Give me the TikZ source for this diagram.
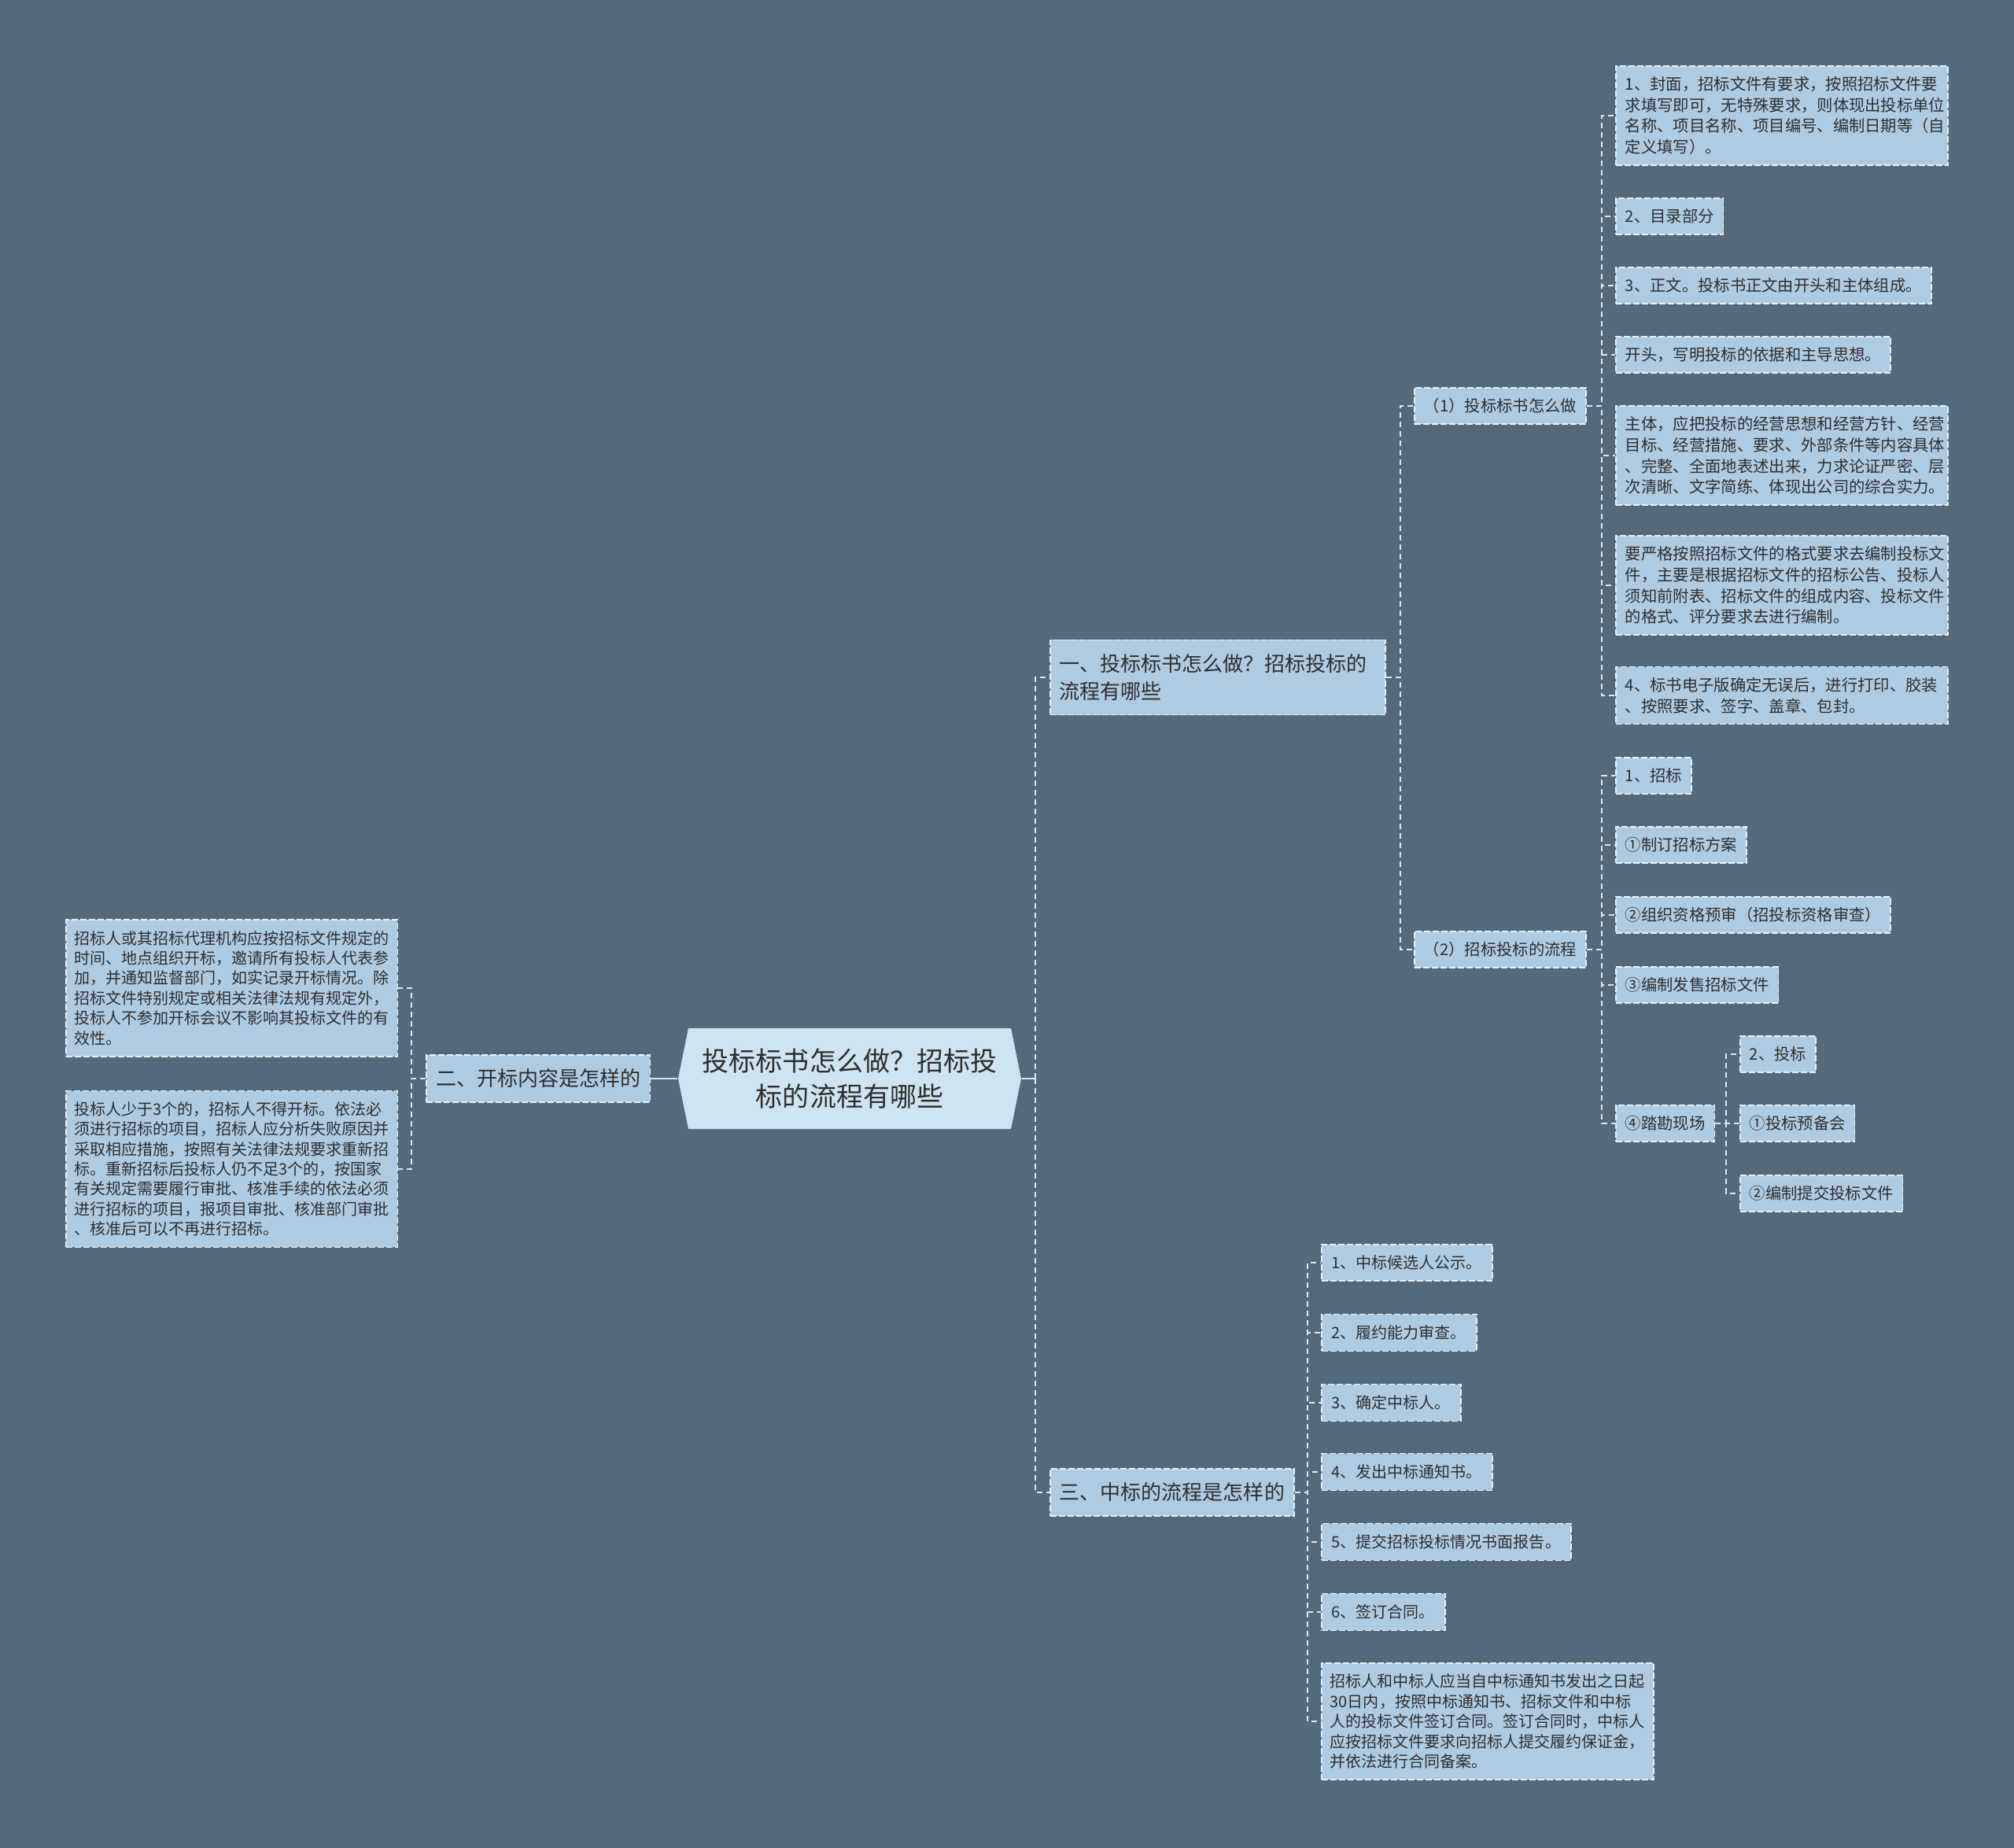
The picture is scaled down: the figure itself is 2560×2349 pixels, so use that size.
\documentclass[tikz,border=0pt]{standalone}
\usepackage{fontspec}
\setmainfont{Noto Sans CJK SC}
\usepackage{tikz}
\usetikzlibrary{calc}
\definecolor{slate}{HTML}{546A7B}
\definecolor{boxbg}{HTML}{AFCBE2}
\definecolor{hubbg}{HTML}{CFE4F1}
\definecolor{rim}{HTML}{E6EFF5}
\definecolor{wire}{HTML}{DCE7EF}
\definecolor{ink}{HTML}{2E2E2E}
\newcommand{\twig}[2]{\draw[link] (#1.east) -| ($(#2.west)+(-17,0)$) -- (#2.west);}
\newcommand{\ltwig}[2]{\draw[link] (#1.west) -| ($(#2.east)+(17,0)$) -- (#2.east);}
\tikzset{box/.style={draw=rim,line width=0.015cm,dash pattern=on 0.08cm off 0.03cm,fill=boxbg,text=ink,align=left,inner xsep=0.12cm,inner ysep=0.13cm,anchor=west},
  topic/.style={box,font=\fontsize{7.4pt}{10pt}\selectfont,inner ysep=0.18cm},
  leaf/.style={box,font=\fontsize{5.78pt}{7.6pt}\selectfont,inner ysep=0.135cm},
  note/.style={box,font=\fontsize{5.69pt}{7.22pt}\selectfont,inner xsep=0.13cm,inner ysep=0.14cm},
  link/.style={draw=wire,line width=0.02cm,dash pattern=on 0.07cm off 0.05cm},
  rootlink/.style={draw=wire,line width=0.025cm}}

\begin{document}
\begin{tikzpicture}[x=0.01cm,y=-0.01cm]
\useasboundingbox (0,0) rectangle (2560,2349);
\fill[slate] (0,0) rectangle (2560,2349);
\coordinate (rc) at (1080,1371);
\fill[hubbg] ($(rc)+(-218,0)$) -- ($(rc)+(-205,-64)$) -- ($(rc)+(205,-64)$) -- ($(rc)+(218,0)$) -- ($(rc)+(205,64)$) -- ($(rc)+(-205,64)$) -- cycle;
\node[text=ink,align=center,inner sep=0pt,minimum width=4.36cm,font=\fontsize{9.67pt}{12.8pt}\selectfont] (root) at (rc) {投标标书怎么做？招标投\\标的流程有哪些};
% first level
\node[topic,text width=4.02cm] (one) at (1334,861) {一、投标标书怎么做？招标投标的\\流程有哪些};
\node[topic,anchor=east] (two) at (827,1371) {二、开标内容是怎样的};
\node[topic] (three) at (1334,1897) {三、中标的流程是怎样的};
\draw[rootlink] (root.east) -- ++(17,0) coordinate (rj); \draw[rootlink] (root.west) -- (two.east);
\draw[link] (rj) |- (one.west); \draw[link] (rj) |- (three.west);
% part one
\node[leaf] (n1) at (1797,516) {（1）投标标书怎么做};
\node[leaf] (n2) at (1797,1207) {（2）招标投标的流程};
\twig{one}{n1} \twig{one}{n2}
\node[leaf,text width=3.98cm] (a1) at (2053,147) {1、封面，招标文件有要求，按照招标文件要\\求填写即可，无特殊要求，则体现出投标单位\\名称、项目名称、项目编号、编制日期等（自\\定义填写）。};
\node[leaf] (a2) at (2053,275) {2、目录部分};
\node[leaf] (a3) at (2053,363) {3、正文。投标书正文由开头和主体组成。};
\node[leaf] (a4) at (2053,451) {开头，写明投标的依据和主导思想。};
\node[leaf,text width=3.98cm] (a5) at (2053,579) {主体，应把投标的经营思想和经营方针、经营\\目标、经营措施、要求、外部条件等内容具体\\、完整、全面地表述出来，力求论证严密、层\\次清晰、文字简练、体现出公司的综合实力。};
\node[leaf,text width=3.98cm] (a6) at (2053,744) {要严格按照招标文件的格式要求去编制投标文\\件，主要是根据招标文件的招标公告、投标人\\须知前附表、招标文件的组成内容、投标文件\\的格式、评分要求去进行编制。};
\node[leaf,text width=3.98cm] (a7) at (2053,884) {4、标书电子版确定无误后，进行打印、胶装\\、按照要求、签字、盖章、包封。};
\twig{n1}{a1} \twig{n1}{a2} \twig{n1}{a3} \twig{n1}{a4} \twig{n1}{a5} \twig{n1}{a6} \twig{n1}{a7}
\node[leaf] (b1) at (2053,986) {1、招标};
\node[leaf] (b2) at (2053,1074) {①制订招标方案};
\node[leaf] (b3) at (2053,1163) {②组织资格预审（招投标资格审查）};
\node[leaf] (b4) at (2053,1252) {③编制发售招标文件};
\node[leaf] (b5) at (2053,1428) {④踏勘现场};
\twig{n2}{b1} \twig{n2}{b2} \twig{n2}{b3} \twig{n2}{b4} \twig{n2}{b5}
\node[leaf] (c1) at (2211,1340) {2、投标};
\node[leaf] (c2) at (2211,1428) {①投标预备会};
\node[leaf] (c3) at (2211,1517) {②编制提交投标文件};
\twig{b5}{c1} \twig{b5}{c2} \twig{b5}{c3}
% part two
\node[note,anchor=east,inner xsep=0.10cm,text width=4.01cm] (e1) at (506,1256) {招标人或其招标代理机构应按招标文件规定的\\时间、地点组织开标，邀请所有投标人代表参\\加，并通知监督部门，如实记录开标情况。除\\招标文件特别规定或相关法律法规有规定外，\\投标人不参加开标会议不影响其投标文件的有\\效性。};
\node[note,anchor=east,inner xsep=0.10cm,text width=4.01cm] (e2) at (506,1486) {投标人少于3个的，招标人不得开标。依法必\\须进行招标的项目，招标人应分析失败原因并\\采取相应措施，按照有关法律法规要求重新招\\标。重新招标后投标人仍不足3个的，按国家\\有关规定需要履行审批、核准手续的依法必须\\进行招标的项目，报项目审批、核准部门审批\\、核准后可以不再进行招标。};
\ltwig{two}{e1} \ltwig{two}{e2}
% part three
\node[note] (d1) at (1679,1605) {1、中标候选人公示。};
\node[note] (d2) at (1679,1694) {2、履约能力审查。};
\node[note] (d3) at (1679,1783) {3、确定中标人。};
\node[note] (d4) at (1679,1871) {4、发出中标通知书。};
\node[note] (d5) at (1679,1960) {5、提交招标投标情况书面报告。};
\node[note] (d6) at (1679,2049) {6、签订合同。};
\node[note,inner xsep=0.11cm,text width=4.0cm] (d7) at (1679,2188) {招标人和中标人应当自中标通知书发出之日起\\30日内，按照中标通知书、招标文件和中标\\人的投标文件签订合同。签订合同时，中标人\\应按招标文件要求向招标人提交履约保证金，\\并依法进行合同备案。};
\twig{three}{d1} \twig{three}{d2} \twig{three}{d3} \twig{three}{d4} \twig{three}{d5} \twig{three}{d6} \twig{three}{d7}
\end{tikzpicture}
\end{document}
